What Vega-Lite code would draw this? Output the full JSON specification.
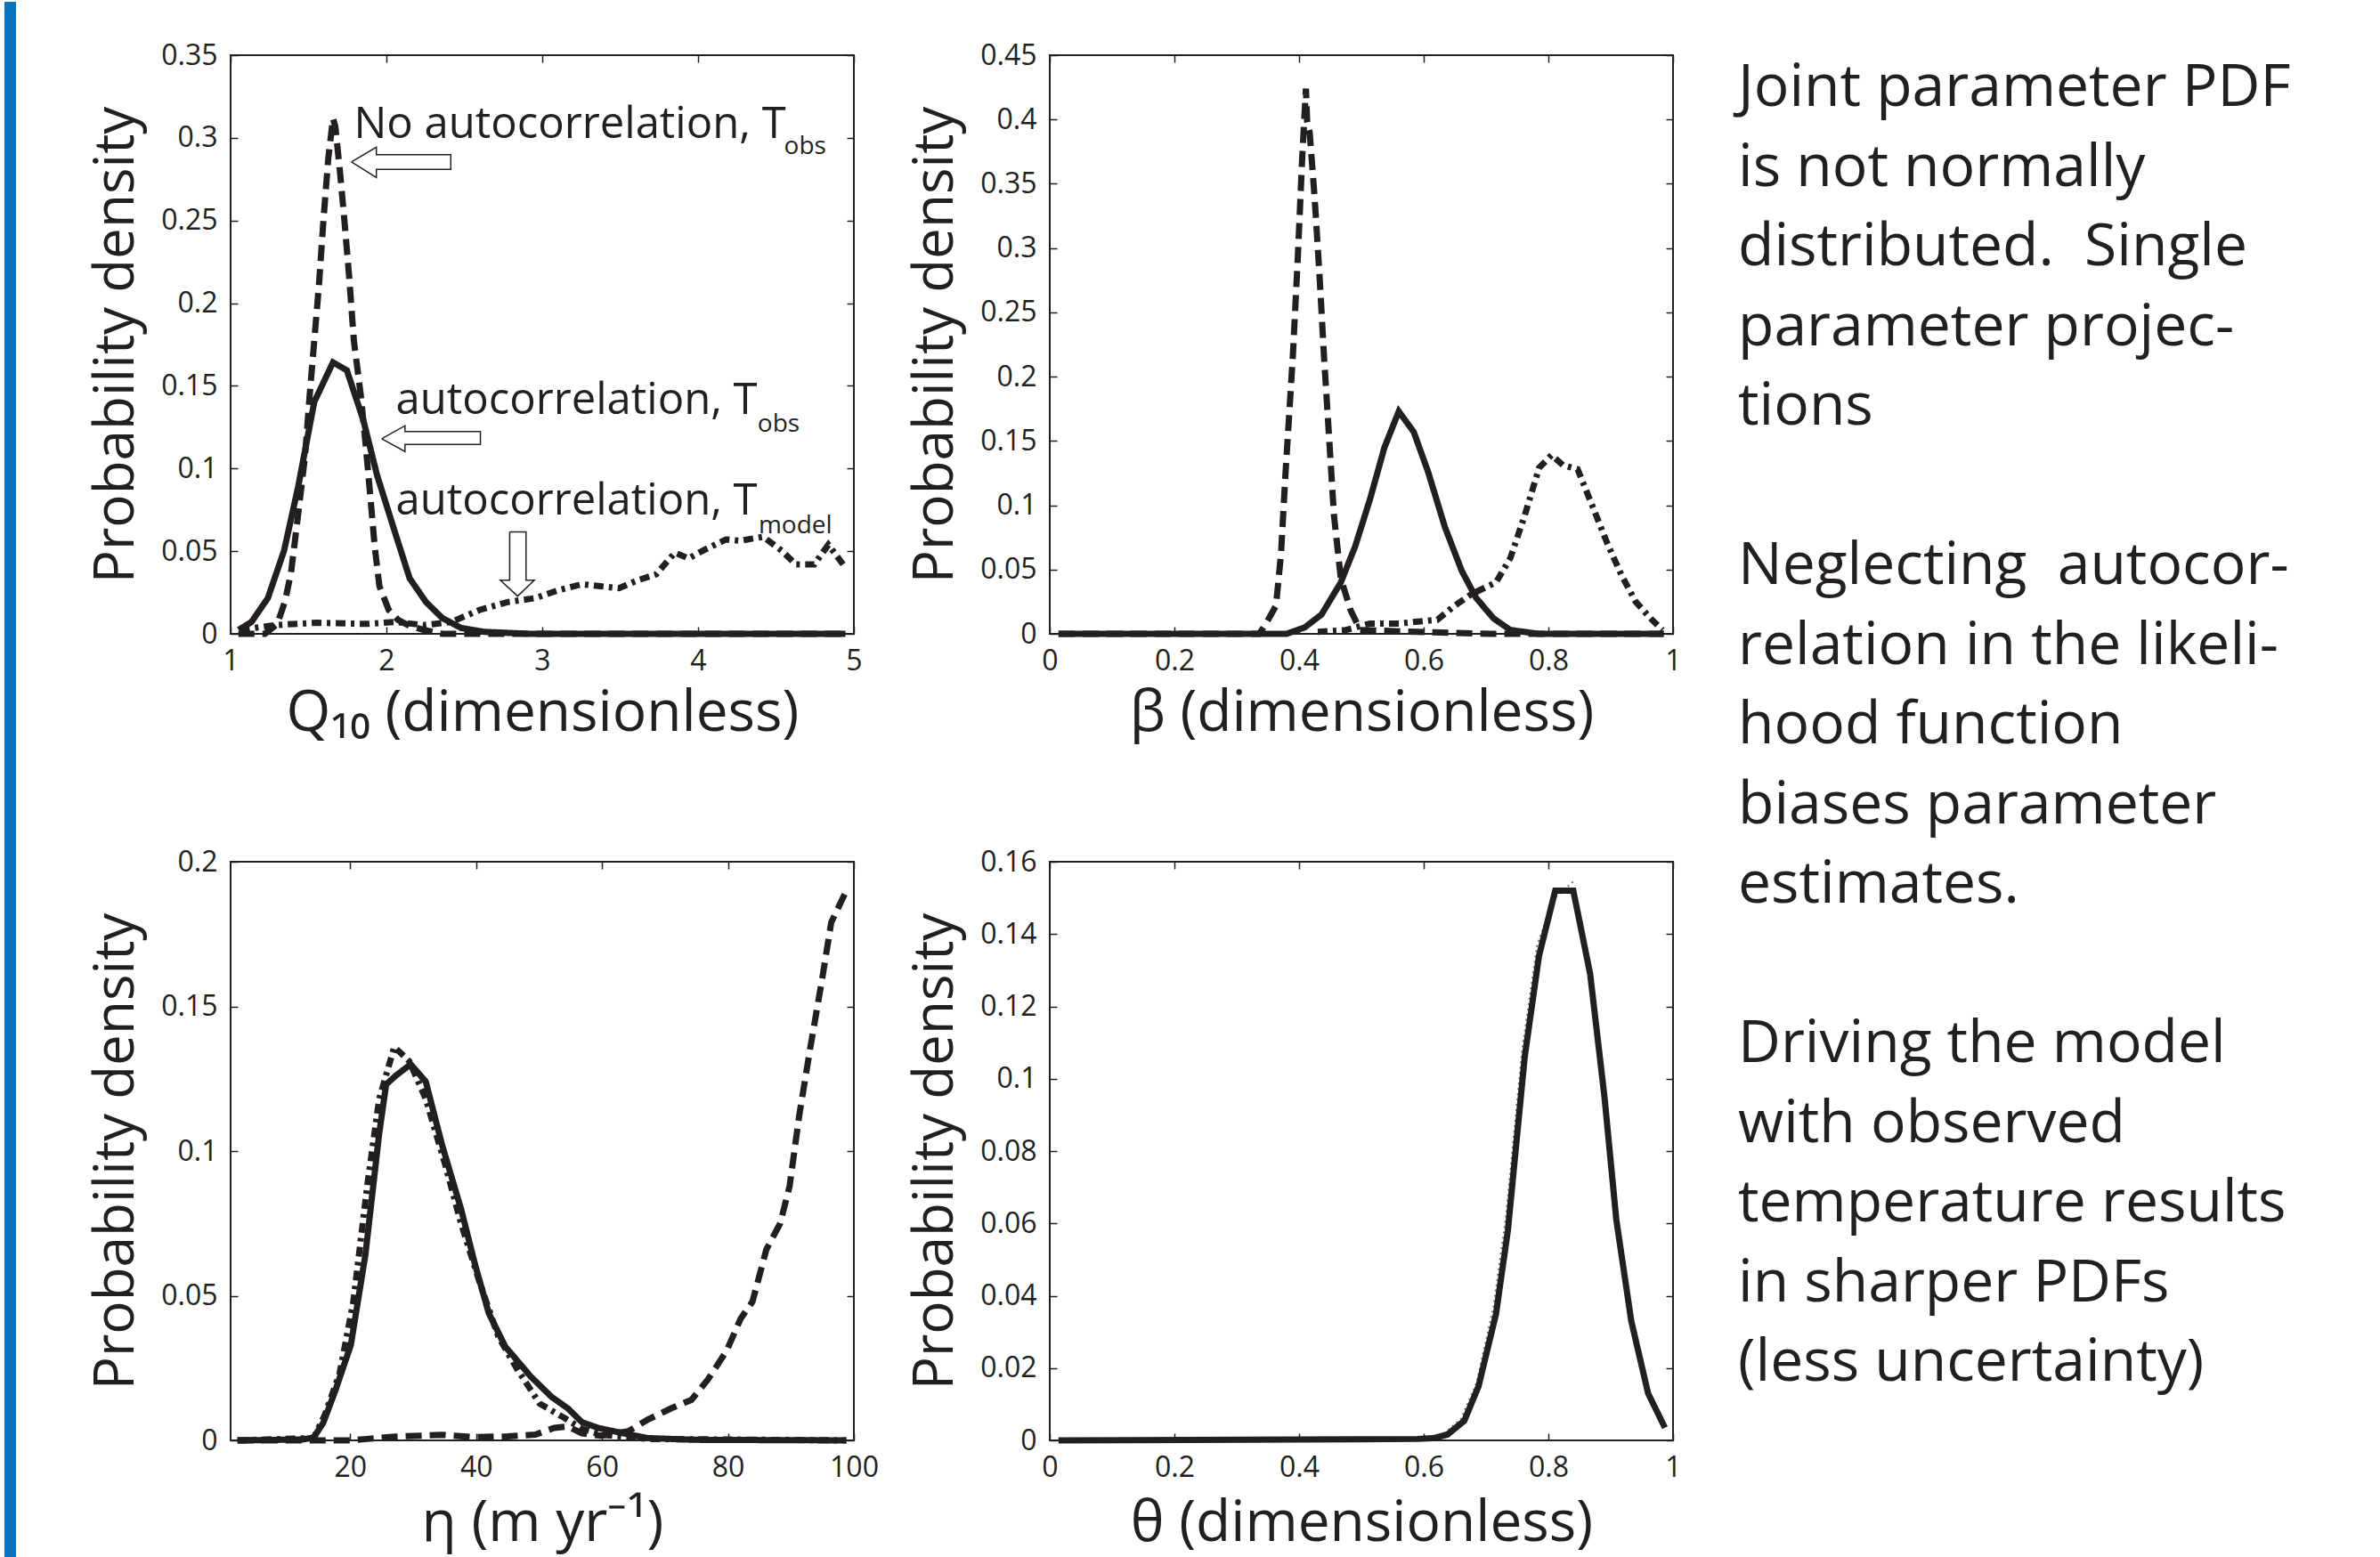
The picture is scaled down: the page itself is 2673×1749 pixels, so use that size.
{
  "$schema": "https://vega.github.io/schema/vega-lite/v6.json",
  "background": "white",
  "padding": {"left": 3, "top": 0, "right": 0, "bottom": 0},
  "config": {
    "font": "Open Sans",
    "view": {"stroke": "#231f20", "strokeWidth": 2},
    "axis": {
      "domain": false, "grid": false,
      "tickSize": -8, "tickWidth": 1.5, "tickColor": "#231f20",
      "labelFont": "Open Sans", "labelFontSize": 32, "labelColor": "#231f20", "labelPadding": 23,
      "labelFlush": false, "labelOverlap": false, "format": "~g",
      "titleFont": "Open Sans", "titleFontWeight": "normal", "titleColor": "#231f20"
    },
    "axisX": {"titleFontSize": 64},
    "axisY": {"titleFontSize": 62, "titlePadding": 18}
  },
  "datasets": {
    "q10": [
      {"x":1.05,"y":0,"s":"NoAC_Tobs"},{"x":1.22,"y":0,"s":"NoAC_Tobs"},{"x":1.3,"y":0.006,"s":"NoAC_Tobs"},{"x":1.35,"y":0.02,"s":"NoAC_Tobs"},{"x":1.388,"y":0.0372,"s":"NoAC_Tobs"},{"x":1.433,"y":0.0719,"s":"NoAC_Tobs"},{"x":1.478,"y":0.1079,"s":"NoAC_Tobs"},{"x":1.507,"y":0.1439,"s":"NoAC_Tobs"},{"x":1.537,"y":0.1774,"s":"NoAC_Tobs"},{"x":1.567,"y":0.211,"s":"NoAC_Tobs"},{"x":1.597,"y":0.2517,"s":"NoAC_Tobs"},{"x":1.627,"y":0.2877,"s":"NoAC_Tobs"},{"x":1.657,"y":0.3117,"s":"NoAC_Tobs"},{"x":1.672,"y":0.3069,"s":"NoAC_Tobs"},{"x":1.701,"y":0.2805,"s":"NoAC_Tobs"},{"x":1.731,"y":0.2493,"s":"NoAC_Tobs"},{"x":1.761,"y":0.2158,"s":"NoAC_Tobs"},{"x":1.791,"y":0.1774,"s":"NoAC_Tobs"},{"x":1.836,"y":0.1439,"s":"NoAC_Tobs"},{"x":1.866,"y":0.1151,"s":"NoAC_Tobs"},{"x":1.896,"y":0.0839,"s":"NoAC_Tobs"},{"x":1.925,"y":0.0527,"s":"NoAC_Tobs"},{"x":1.955,"y":0.0288,"s":"NoAC_Tobs"},{"x":2.015,"y":0.0144,"s":"NoAC_Tobs"},{"x":2.075,"y":0.0084,"s":"NoAC_Tobs"},{"x":2.149,"y":0.0048,"s":"NoAC_Tobs"},{"x":2.239,"y":0.0024,"s":"NoAC_Tobs"},{"x":2.358,"y":0,"s":"NoAC_Tobs"},{"x":4.95,"y":0,"s":"NoAC_Tobs"},
      {"x":1.051,"y":0.0024,"s":"AC_Tobs"},{"x":1.134,"y":0.0072,"s":"AC_Tobs"},{"x":1.239,"y":0.0216,"s":"AC_Tobs"},{"x":1.343,"y":0.0503,"s":"AC_Tobs"},{"x":1.433,"y":0.0887,"s":"AC_Tobs"},{"x":1.537,"y":0.1403,"s":"AC_Tobs"},{"x":1.657,"y":0.1642,"s":"AC_Tobs"},{"x":1.746,"y":0.1594,"s":"AC_Tobs"},{"x":1.851,"y":0.1295,"s":"AC_Tobs"},{"x":1.94,"y":0.0959,"s":"AC_Tobs"},{"x":2.06,"y":0.0599,"s":"AC_Tobs"},{"x":2.149,"y":0.0336,"s":"AC_Tobs"},{"x":2.254,"y":0.0192,"s":"AC_Tobs"},{"x":2.358,"y":0.0096,"s":"AC_Tobs"},{"x":2.478,"y":0.0036,"s":"AC_Tobs"},{"x":2.627,"y":0.0012,"s":"AC_Tobs"},{"x":2.925,"y":0,"s":"AC_Tobs"},{"x":4.946,"y":0,"s":"AC_Tobs"},
      {"x":1.06,"y":0.0024,"s":"AC_Tmodel"},{"x":1.284,"y":0.0053,"s":"AC_Tmodel"},{"x":1.552,"y":0.0067,"s":"AC_Tmodel"},{"x":1.881,"y":0.006,"s":"AC_Tmodel"},{"x":2.06,"y":0.0072,"s":"AC_Tmodel"},{"x":2.239,"y":0.0053,"s":"AC_Tmodel"},{"x":2.418,"y":0.0072,"s":"AC_Tmodel"},{"x":2.597,"y":0.0144,"s":"AC_Tmodel"},{"x":2.776,"y":0.0192,"s":"AC_Tmodel"},{"x":2.955,"y":0.0216,"s":"AC_Tmodel"},{"x":3.104,"y":0.0264,"s":"AC_Tmodel"},{"x":3.254,"y":0.03,"s":"AC_Tmodel"},{"x":3.373,"y":0.0288,"s":"AC_Tmodel"},{"x":3.493,"y":0.0276,"s":"AC_Tmodel"},{"x":3.612,"y":0.0324,"s":"AC_Tmodel"},{"x":3.731,"y":0.036,"s":"AC_Tmodel"},{"x":3.851,"y":0.0491,"s":"AC_Tmodel"},{"x":3.94,"y":0.0456,"s":"AC_Tmodel"},{"x":4.03,"y":0.0503,"s":"AC_Tmodel"},{"x":4.179,"y":0.0571,"s":"AC_Tmodel"},{"x":4.269,"y":0.0563,"s":"AC_Tmodel"},{"x":4.418,"y":0.0587,"s":"AC_Tmodel"},{"x":4.537,"y":0.0503,"s":"AC_Tmodel"},{"x":4.627,"y":0.042,"s":"AC_Tmodel"},{"x":4.746,"y":0.042,"s":"AC_Tmodel"},{"x":4.836,"y":0.0539,"s":"AC_Tmodel"},{"x":4.94,"y":0.0408,"s":"AC_Tmodel"}
    ],
    "beta": [
      {"x":0.014,"y":0,"s":"NoAC_Tobs"},{"x":0.336,"y":0,"s":"NoAC_Tobs"},{"x":0.347,"y":0.008,"s":"NoAC_Tobs"},{"x":0.363,"y":0.022,"s":"NoAC_Tobs"},{"x":0.371,"y":0.062,"s":"NoAC_Tobs"},{"x":0.378,"y":0.123,"s":"NoAC_Tobs"},{"x":0.39,"y":0.216,"s":"NoAC_Tobs"},{"x":0.398,"y":0.293,"s":"NoAC_Tobs"},{"x":0.405,"y":0.37,"s":"NoAC_Tobs"},{"x":0.411,"y":0.424,"s":"NoAC_Tobs"},{"x":0.413,"y":0.398,"s":"NoAC_Tobs"},{"x":0.417,"y":0.39,"s":"NoAC_Tobs"},{"x":0.425,"y":0.339,"s":"NoAC_Tobs"},{"x":0.433,"y":0.277,"s":"NoAC_Tobs"},{"x":0.44,"y":0.216,"s":"NoAC_Tobs"},{"x":0.448,"y":0.154,"s":"NoAC_Tobs"},{"x":0.456,"y":0.092,"s":"NoAC_Tobs"},{"x":0.467,"y":0.043,"s":"NoAC_Tobs"},{"x":0.483,"y":0.018,"s":"NoAC_Tobs"},{"x":0.498,"y":0.003,"s":"NoAC_Tobs"},{"x":0.59,"y":0.0015,"s":"NoAC_Tobs"},{"x":0.71,"y":0,"s":"NoAC_Tobs"},{"x":0.985,"y":0,"s":"NoAC_Tobs"},
      {"x":0.014,"y":0,"s":"AC_Tobs"},{"x":0.38,"y":0,"s":"AC_Tobs"},{"x":0.409,"y":0.005,"s":"AC_Tobs"},{"x":0.436,"y":0.015,"s":"AC_Tobs"},{"x":0.467,"y":0.04,"s":"AC_Tobs"},{"x":0.49,"y":0.068,"s":"AC_Tobs"},{"x":0.514,"y":0.105,"s":"AC_Tobs"},{"x":0.537,"y":0.145,"s":"AC_Tobs"},{"x":0.56,"y":0.173,"s":"AC_Tobs"},{"x":0.584,"y":0.157,"s":"AC_Tobs"},{"x":0.607,"y":0.126,"s":"AC_Tobs"},{"x":0.634,"y":0.083,"s":"AC_Tobs"},{"x":0.661,"y":0.049,"s":"AC_Tobs"},{"x":0.684,"y":0.028,"s":"AC_Tobs"},{"x":0.712,"y":0.012,"s":"AC_Tobs"},{"x":0.739,"y":0.003,"s":"AC_Tobs"},{"x":0.785,"y":0,"s":"AC_Tobs"},{"x":0.985,"y":0,"s":"AC_Tobs"},
      {"x":0.43,"y":0.0015,"s":"AC_Tmodel"},{"x":0.475,"y":0.003,"s":"AC_Tmodel"},{"x":0.514,"y":0.008,"s":"AC_Tmodel"},{"x":0.56,"y":0.008,"s":"AC_Tmodel"},{"x":0.622,"y":0.011,"s":"AC_Tmodel"},{"x":0.65,"y":0.022,"s":"AC_Tmodel"},{"x":0.677,"y":0.031,"s":"AC_Tmodel"},{"x":0.716,"y":0.04,"s":"AC_Tmodel"},{"x":0.739,"y":0.059,"s":"AC_Tmodel"},{"x":0.762,"y":0.092,"s":"AC_Tmodel"},{"x":0.785,"y":0.129,"s":"AC_Tmodel"},{"x":0.805,"y":0.139,"s":"AC_Tmodel"},{"x":0.824,"y":0.131,"s":"AC_Tmodel"},{"x":0.847,"y":0.128,"s":"AC_Tmodel"},{"x":0.871,"y":0.099,"s":"AC_Tmodel"},{"x":0.894,"y":0.071,"s":"AC_Tmodel"},{"x":0.917,"y":0.046,"s":"AC_Tmodel"},{"x":0.94,"y":0.025,"s":"AC_Tmodel"},{"x":0.964,"y":0.012,"s":"AC_Tmodel"},{"x":0.983,"y":0.003,"s":"AC_Tmodel"}
    ],
    "eta": [
      {"x":2.1,"y":0,"s":"AC_Tobs"},{"x":12.4,"y":0.0003,"s":"AC_Tobs"},{"x":14.2,"y":0.001,"s":"AC_Tobs"},{"x":15.7,"y":0.006,"s":"AC_Tobs"},{"x":17.6,"y":0.017,"s":"AC_Tobs"},{"x":20.1,"y":0.033,"s":"AC_Tobs"},{"x":22.4,"y":0.064,"s":"AC_Tobs"},{"x":24.6,"y":0.106,"s":"AC_Tobs"},{"x":25.7,"y":0.123,"s":"AC_Tobs"},{"x":27.2,"y":0.126,"s":"AC_Tobs"},{"x":29.6,"y":0.13,"s":"AC_Tobs"},{"x":32,"y":0.124,"s":"AC_Tobs"},{"x":34.6,"y":0.102,"s":"AC_Tobs"},{"x":37.6,"y":0.08,"s":"AC_Tobs"},{"x":39.8,"y":0.061,"s":"AC_Tobs"},{"x":42,"y":0.044,"s":"AC_Tobs"},{"x":44.6,"y":0.0325,"s":"AC_Tobs"},{"x":48.7,"y":0.022,"s":"AC_Tobs"},{"x":52,"y":0.015,"s":"AC_Tobs"},{"x":54.6,"y":0.011,"s":"AC_Tobs"},{"x":56.8,"y":0.0063,"s":"AC_Tobs"},{"x":59.4,"y":0.0043,"s":"AC_Tobs"},{"x":63.5,"y":0.0024,"s":"AC_Tobs"},{"x":67.2,"y":0.0008,"s":"AC_Tobs"},{"x":74.6,"y":0.0002,"s":"AC_Tobs"},{"x":98.8,"y":0,"s":"AC_Tobs"},
      {"x":2.1,"y":0,"s":"AC_Tmodel"},{"x":14.2,"y":0.0008,"s":"AC_Tmodel"},{"x":16,"y":0.009,"s":"AC_Tmodel"},{"x":18.3,"y":0.023,"s":"AC_Tmodel"},{"x":20.5,"y":0.048,"s":"AC_Tmodel"},{"x":22.7,"y":0.088,"s":"AC_Tmodel"},{"x":24.6,"y":0.118,"s":"AC_Tmodel"},{"x":27,"y":0.136,"s":"AC_Tmodel"},{"x":29.4,"y":0.131,"s":"AC_Tmodel"},{"x":32,"y":0.118,"s":"AC_Tmodel"},{"x":35,"y":0.096,"s":"AC_Tmodel"},{"x":37.6,"y":0.075,"s":"AC_Tmodel"},{"x":40.5,"y":0.055,"s":"AC_Tmodel"},{"x":43.5,"y":0.036,"s":"AC_Tmodel"},{"x":46.4,"y":0.025,"s":"AC_Tmodel"},{"x":50.1,"y":0.0127,"s":"AC_Tmodel"},{"x":53.9,"y":0.0079,"s":"AC_Tmodel"},{"x":56.8,"y":0.004,"s":"AC_Tmodel"},{"x":59.8,"y":0.002,"s":"AC_Tmodel"},{"x":67.2,"y":0.0005,"s":"AC_Tmodel"},{"x":98.8,"y":0,"s":"AC_Tmodel"},
      {"x":2.1,"y":0,"s":"NoAC_Tobs"},{"x":20,"y":0,"s":"NoAC_Tobs"},{"x":22.7,"y":0.0005,"s":"NoAC_Tobs"},{"x":27.2,"y":0.0013,"s":"NoAC_Tobs"},{"x":34.6,"y":0.0019,"s":"NoAC_Tobs"},{"x":39.8,"y":0.0011,"s":"NoAC_Tobs"},{"x":45,"y":0.0014,"s":"NoAC_Tobs"},{"x":49.4,"y":0.002,"s":"NoAC_Tobs"},{"x":52.4,"y":0.0043,"s":"NoAC_Tobs"},{"x":54.6,"y":0.0048,"s":"NoAC_Tobs"},{"x":56.8,"y":0.0024,"s":"NoAC_Tobs"},{"x":59.8,"y":0.0016,"s":"NoAC_Tobs"},{"x":64.2,"y":0.0032,"s":"NoAC_Tobs"},{"x":67.2,"y":0.0071,"s":"NoAC_Tobs"},{"x":70.9,"y":0.011,"s":"NoAC_Tobs"},{"x":74.2,"y":0.014,"s":"NoAC_Tobs"},{"x":76.8,"y":0.021,"s":"NoAC_Tobs"},{"x":79.8,"y":0.031,"s":"NoAC_Tobs"},{"x":82,"y":0.042,"s":"NoAC_Tobs"},{"x":83.9,"y":0.048,"s":"NoAC_Tobs"},{"x":86.1,"y":0.066,"s":"NoAC_Tobs"},{"x":88.3,"y":0.075,"s":"NoAC_Tobs"},{"x":89.8,"y":0.088,"s":"NoAC_Tobs"},{"x":91.3,"y":0.112,"s":"NoAC_Tobs"},{"x":93.1,"y":0.136,"s":"NoAC_Tobs"},{"x":95,"y":0.16,"s":"NoAC_Tobs"},{"x":96.4,"y":0.179,"s":"NoAC_Tobs"},{"x":98.8,"y":0.19,"s":"NoAC_Tobs"}
    ],
    "theta": [
      {"x":0.014,"y":0,"s":"AC_Tobs"},{"x":0.59,"y":0.0004,"s":"AC_Tobs"},{"x":0.615,"y":0.0006,"s":"AC_Tobs"},{"x":0.638,"y":0.0016,"s":"AC_Tobs"},{"x":0.665,"y":0.0054,"s":"AC_Tobs"},{"x":0.688,"y":0.015,"s":"AC_Tobs"},{"x":0.716,"y":0.035,"s":"AC_Tobs"},{"x":0.735,"y":0.058,"s":"AC_Tobs"},{"x":0.762,"y":0.106,"s":"AC_Tobs"},{"x":0.785,"y":0.134,"s":"AC_Tobs"},{"x":0.811,"y":0.152,"s":"AC_Tobs"},{"x":0.84,"y":0.152,"s":"AC_Tobs"},{"x":0.867,"y":0.129,"s":"AC_Tobs"},{"x":0.89,"y":0.095,"s":"AC_Tobs"},{"x":0.909,"y":0.061,"s":"AC_Tobs"},{"x":0.933,"y":0.033,"s":"AC_Tobs"},{"x":0.96,"y":0.013,"s":"AC_Tobs"},{"x":0.987,"y":0.0035,"s":"AC_Tobs"}
    ],
    "thetaDot": [
      {"x":0.6,"y":0.0005},{"x":0.63,"y":0.0015},{"x":0.66,"y":0.006},{"x":0.685,"y":0.016},{"x":0.712,"y":0.037},{"x":0.732,"y":0.062},{"x":0.758,"y":0.108},{"x":0.782,"y":0.137},{"x":0.81,"y":0.15},{"x":0.843,"y":0.155}
    ],
    "arrows": [
      {"a":1,"i":0,"x":1.7754,"y":0.2854},{"a":1,"i":1,"x":1.9354,"y":0.29437},{"a":1,"i":2,"x":1.9354,"y":0.28985},{"a":1,"i":3,"x":2.4131,"y":0.28985},{"a":1,"i":4,"x":2.4131,"y":0.28091},{"a":1,"i":5,"x":1.9354,"y":0.28091},{"a":1,"i":6,"x":1.9354,"y":0.27607},{"a":1,"i":7,"x":1.7754,"y":0.2854},
      {"a":2,"i":0,"x":1.97,"y":0.118},{"a":2,"i":1,"x":2.119,"y":0.1259},{"a":2,"i":2,"x":2.119,"y":0.1223},{"a":2,"i":3,"x":2.603,"y":0.1223},{"a":2,"i":4,"x":2.603,"y":0.1146},{"a":2,"i":5,"x":2.119,"y":0.1146},{"a":2,"i":6,"x":2.119,"y":0.1103},{"a":2,"i":7,"x":1.97,"y":0.118},
      {"a":3,"i":0,"x":2.791,"y":0.0616},{"a":3,"i":1,"x":2.896,"y":0.0616},{"a":3,"i":2,"x":2.896,"y":0.0324},{"a":3,"i":3,"x":2.949,"y":0.0324},{"a":3,"i":4,"x":2.842,"y":0.0228},{"a":3,"i":5,"x":2.731,"y":0.0324},{"a":3,"i":6,"x":2.791,"y":0.0324},{"a":3,"i":7,"x":2.791,"y":0.0616}
    ],
    "annMain": [
      {"x":1.791,"y":0.2997,"label":"No autocorrelation, T"},
      {"x":2.06,"y":0.133,"label":"autocorrelation, T"},
      {"x":2.06,"y":0.0719,"label":"autocorrelation, T"}
    ],
    "annSub": [
      {"x":4.552,"y":0.29,"label":"obs"},
      {"x":4.382,"y":0.1223,"label":"obs"},
      {"x":4.388,"y":0.0611,"label":"model"}
    ],
    "notes": [
      {"line":0,"text":"Joint parameter PDF"},
      {"line":1,"text":"is not normally"},
      {"line":2,"text":"distributed.\u00a0 Single"},
      {"line":3,"text":"parameter projec-"},
      {"line":4,"text":"tions"},
      {"line":6,"text":"Neglecting\u00a0 autocor-"},
      {"line":7,"text":"relation in the likeli-"},
      {"line":8,"text":"hood function"},
      {"line":9,"text":"biases parameter"},
      {"line":10,"text":"estimates."},
      {"line":12,"text":"Driving the model"},
      {"line":13,"text":"with observed"},
      {"line":14,"text":"temperature results"},
      {"line":15,"text":"in sharper PDFs"},
      {"line":16,"text":"(less uncertainty)"}
    ]
  },
  "hconcat": [
    {
      "columns": 2,
      "spacing": {"row": 256, "column": 220},
      "bounds": "flush",
      "concat": [
        {
          "width": 700, "height": 650,
          "layer": [
            {
              "data": {"name": "q10"},
              "mark": {"type": "line", "strokeWidth": 7, "color": "#231f20", "strokeCap": "butt"},
              "encoding": {
                "x": {"field": "x", "type": "quantitative", "scale": {"domain": [1, 5], "nice": false, "zero": false}, "axis": {"values": [1, 2, 3, 4, 5], "title": "Q₁₀ (dimensionless)", "titlePadding": 11}},
                "y": {"field": "y", "type": "quantitative", "scale": {"domain": [0, 0.35], "nice": false}, "axis": {"values": [0, 0.05, 0.1, 0.15, 0.2, 0.25, 0.3, 0.35], "title": "Probability density"}},
                "strokeDash": {"field": "s", "type": "nominal", "scale": {"domain": ["AC_Tobs", "NoAC_Tobs", "AC_Tmodel"], "range": [[1, 0], [18, 9], [11, 6, 4, 6]]}, "legend": null}
              }
            },
            {
              "data": {"name": "q10"},
              "mark": {"type": "point", "opacity": 0},
              "encoding": {
                "x": {"field": "x", "type": "quantitative", "axis": {"orient": "top", "values": [1, 2, 3, 4, 5], "labels": false, "title": null}},
                "y": {"field": "y", "type": "quantitative", "axis": {"orient": "right", "values": [0, 0.05, 0.1, 0.15, 0.2, 0.25, 0.3, 0.35], "labels": false, "title": null}}
              }
            },
            {
              "data": {"name": "arrows"},
              "mark": {"type": "line", "strokeWidth": 1.5, "color": "#231f20"},
              "encoding": {
                "x": {"field": "x", "type": "quantitative", "axis": null},
                "y": {"field": "y", "type": "quantitative", "axis": null},
                "detail": {"field": "a", "type": "nominal"},
                "order": {"field": "i", "type": "quantitative"}
              }
            },
            {
              "data": {"name": "annMain"},
              "mark": {"type": "text", "align": "left", "baseline": "alphabetic", "fontSize": 49, "font": "Open Sans", "color": "#231f20"},
              "encoding": {
                "x": {"field": "x", "type": "quantitative", "axis": null},
                "y": {"field": "y", "type": "quantitative", "axis": null},
                "text": {"field": "label"}
              }
            },
            {
              "data": {"name": "annSub"},
              "mark": {"type": "text", "align": "left", "baseline": "alphabetic", "fontSize": 28, "font": "Open Sans", "color": "#231f20"},
              "encoding": {
                "x": {"field": "x", "type": "quantitative", "axis": null},
                "y": {"field": "y", "type": "quantitative", "axis": null},
                "text": {"field": "label"}
              }
            },
            {
              "data": {"values": [{}]},
              "mark": {"type": "rect", "color": "#0a72bd", "clip": false},
              "encoding": {
                "x": {"datum": -0.45143, "type": "quantitative", "axis": null},
                "x2": {"datum": -0.37714},
                "y": {"datum": 0.38231, "type": "quantitative", "axis": null},
                "y2": {"datum": -0.55946}
              }
            }
          ],
          "resolve": {"axis": {"x": "independent", "y": "independent"}}
        },
        {
          "width": 700, "height": 650,
          "layer": [
            {
              "data": {"name": "beta"},
              "mark": {"type": "line", "strokeWidth": 7, "color": "#231f20", "strokeCap": "butt"},
              "encoding": {
                "x": {"field": "x", "type": "quantitative", "scale": {"domain": [0, 1], "nice": false}, "axis": {"values": [0, 0.2, 0.4, 0.6, 0.8, 1], "title": "β (dimensionless)", "titlePadding": 11}},
                "y": {"field": "y", "type": "quantitative", "scale": {"domain": [0, 0.45], "nice": false}, "axis": {"values": [0, 0.05, 0.1, 0.15, 0.2, 0.25, 0.3, 0.35, 0.4, 0.45], "title": "Probability density"}},
                "strokeDash": {"field": "s", "type": "nominal", "scale": {"domain": ["AC_Tobs", "NoAC_Tobs", "AC_Tmodel"], "range": [[1, 0], [18, 9], [11, 6, 4, 6]]}, "legend": null}
              }
            },
            {
              "data": {"name": "beta"},
              "mark": {"type": "point", "opacity": 0},
              "encoding": {
                "x": {"field": "x", "type": "quantitative", "axis": {"orient": "top", "values": [0, 0.2, 0.4, 0.6, 0.8, 1], "labels": false, "title": null}},
                "y": {"field": "y", "type": "quantitative", "axis": {"orient": "right", "values": [0, 0.05, 0.1, 0.15, 0.2, 0.25, 0.3, 0.35, 0.4, 0.45], "labels": false, "title": null}}
              }
            }
          ],
          "resolve": {"axis": {"x": "independent", "y": "independent"}}
        },
        {
          "width": 700, "height": 650,
          "layer": [
            {
              "data": {"name": "eta"},
              "mark": {"type": "line", "strokeWidth": 7, "color": "#231f20", "strokeCap": "butt"},
              "encoding": {
                "x": {"field": "x", "type": "quantitative", "scale": {"domain": [1, 100], "nice": false, "zero": false}, "axis": {"values": [20, 40, 60, 80, 100], "format": "d", "title": "η (m yr⁻¹)", "titlePadding": 15}},
                "y": {"field": "y", "type": "quantitative", "scale": {"domain": [0, 0.2], "nice": false}, "axis": {"values": [0, 0.05, 0.1, 0.15, 0.2], "title": "Probability density"}},
                "strokeDash": {"field": "s", "type": "nominal", "scale": {"domain": ["AC_Tobs", "NoAC_Tobs", "AC_Tmodel"], "range": [[1, 0], [18, 9], [11, 6, 4, 6]]}, "legend": null}
              }
            },
            {
              "data": {"name": "eta"},
              "mark": {"type": "point", "opacity": 0},
              "encoding": {
                "x": {"field": "x", "type": "quantitative", "axis": {"orient": "top", "values": [20, 40, 60, 80, 100], "labels": false, "title": null}},
                "y": {"field": "y", "type": "quantitative", "axis": {"orient": "right", "values": [0, 0.05, 0.1, 0.15, 0.2], "labels": false, "title": null}}
              }
            }
          ],
          "resolve": {"axis": {"x": "independent", "y": "independent"}}
        },
        {
          "width": 700, "height": 650,
          "layer": [
            {
              "data": {"name": "thetaDot"},
              "mark": {"type": "line", "strokeWidth": 2, "color": "#6d6e71", "strokeDash": [2, 4]},
              "encoding": {
                "x": {"field": "x", "type": "quantitative", "scale": {"domain": [0, 1], "nice": false}, "axis": {"values": [0, 0.2, 0.4, 0.6, 0.8, 1], "title": "θ (dimensionless)", "titlePadding": 15}},
                "y": {"field": "y", "type": "quantitative", "scale": {"domain": [0, 0.16], "nice": false}, "axis": {"values": [0, 0.02, 0.04, 0.06, 0.08, 0.1, 0.12, 0.14, 0.16], "title": "Probability density"}}
              }
            },
            {
              "data": {"name": "theta"},
              "mark": {"type": "line", "strokeWidth": 7, "color": "#231f20"},
              "encoding": {
                "x": {"field": "x", "type": "quantitative", "axis": {"orient": "top", "values": [0, 0.2, 0.4, 0.6, 0.8, 1], "labels": false, "title": null}},
                "y": {"field": "y", "type": "quantitative", "axis": {"orient": "right", "values": [0, 0.02, 0.04, 0.06, 0.08, 0.1, 0.12, 0.14, 0.16], "labels": false, "title": null}}
              }
            }
          ],
          "resolve": {"axis": {"x": "independent", "y": "independent"}}
        }
      ]
    },
    {
      "width": 700, "height": 1550,
      "view": {"stroke": null},
      "data": {"name": "notes"},
      "mark": {"type": "text", "align": "left", "baseline": "middle", "fontSize": 66, "font": "Open Sans", "color": "#231f20"},
      "encoding": {
        "y": {"field": "line", "type": "quantitative", "scale": {"domain": [0, 16], "range": [37, 1469]}, "axis": null},
        "x": {"value": 0},
        "text": {"field": "text"}
      }
    }
  ],
  "spacing": 62
}
